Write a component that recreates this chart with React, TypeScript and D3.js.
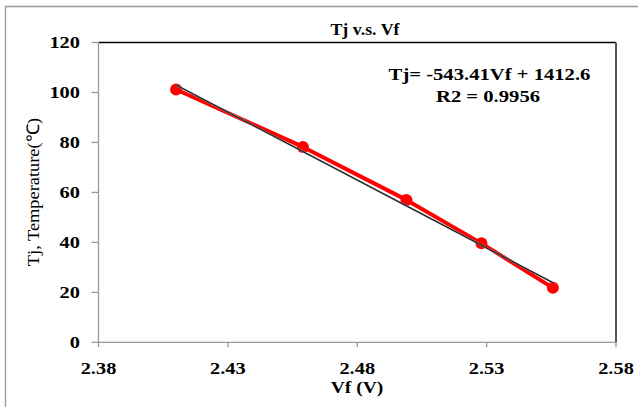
import React from "react";
import * as d3 from "d3";

const vf: number[] = [2.41, 2.459, 2.499, 2.528, 2.5556];
const tj: number[] = [101.2, 78.2, 57.0, 39.6, 21.8];
const xTicks: number[] = [2.38, 2.43, 2.48, 2.53, 2.58];
const yTicks: number[] = [0, 20, 40, 60, 80, 100, 120];
const trendSlope = -543.41;
const trendIntercept = 1412.6;
const r2 = 0.9956;
const title = "Tj v.s. Vf";
const xTitle = "Vf (V)";
const yTitle = "Tj, Temperature(℃)";

const W = 638;
const H = 407;
const FONT = "'Liberation Serif', 'Times New Roman', serif";

function SText(props: {
  x: number; y: number; sx?: number; size: number; bold?: boolean;
  anchor?: string; rotate?: number; children: React.ReactNode; fill?: string;
}) {
  const { x, y, sx = 1, size, bold, anchor = "middle", rotate = 0, children, fill = "#000" } = props;
  return (
    <text
      transform={`translate(${x},${y}) rotate(${rotate}) scale(${sx},1)`}
      fontFamily={FONT}
      fontSize={size}
      fontWeight={bold ? "bold" : "normal"}
      textAnchor={anchor}
      fill={fill}
    >
      {children}
    </text>
  );
}

export default function App() {
  const x = d3.scaleLinear().domain([2.38, 2.58]).range([98.5, 616]);
  const y = d3.scaleLinear().domain([0, 120]).range([342.3, 42.5]);
  const pts = vf.map((v, i) => [v, tj[i]] as [number, number]);
  const line = d3
    .line<[number, number]>()
    .x((d) => x(d[0]))
    .y((d) => y(d[1]));
  const xMin = d3.min(vf)!;
  const xMax = d3.max(vf)!;
  const trend: [number, number][] = [
    [xMin, trendSlope * xMin + trendIntercept],
    [xMax, trendSlope * xMax + trendIntercept],
  ];
  const [x0, x1] = x.range();
  const [y0, y1] = y.range();

  return (
    <svg
      width={W}
      height={H}
      style={{ position: "absolute", left: 0, top: 0, background: "#fff" }}
    >
      <rect x={0} y={0} width={W} height={H} fill="#fff" />
      {/* outer chart border */}
      <line x1={5.5} y1={6} x2={5.5} y2={H} stroke="#999" strokeWidth={1.3} />
      <line x1={5} y1={6.5} x2={W} y2={6.5} stroke="#999" strokeWidth={1.3} />

      {/* plot area border */}
      <line x1={x0} y1={y1} x2={x1} y2={y1} stroke="#000" strokeWidth={1.5} />
      <line x1={x1} y1={y1} x2={x1} y2={y0} stroke="#555" strokeWidth={2} />
      <line x1={x0} y1={y0} x2={x1} y2={y0} stroke="#999" strokeWidth={1.3} />
      <line x1={x0} y1={y0} x2={x0} y2={y1} stroke="#999" strokeWidth={1.3} />

      {/* y ticks */}
      {yTicks.map((t) => (
        <g key={"y" + t}>
          <line x1={x0 - 7} x2={x0} y1={y(t)} y2={y(t)} stroke="#999" strokeWidth={1.3} />
          <SText x={80} y={y(t) + 5.8} sx={1.2} size={17} bold anchor="end">
            {t}
          </SText>
        </g>
      ))}
      {/* x ticks */}
      {xTicks.map((t) => (
        <g key={"x" + t}>
          <line x1={x(t)} x2={x(t)} y1={y0} y2={y0 + 5} stroke="#999" strokeWidth={1.3} />
          <SText x={x(t)} y={373.5} sx={1.2} size={17} bold>
            {t.toFixed(2)}
          </SText>
        </g>
      ))}

      {/* series */}
      <path d={line(pts)!} fill="none" stroke="#ff0000" strokeWidth={4} strokeLinejoin="round" />
      {pts.map((p, i) => (
        <circle key={i} cx={x(p[0])} cy={y(p[1])} r={6} fill="#ff0000" />
      ))}
      {/* trendline */}
      <path d={line(trend)!} fill="none" stroke="#888" strokeWidth={2} />
      <path d={line(trend)!} fill="none" stroke="#000" strokeWidth={0.9} />

      {/* texts */}
      <SText x={365} y={34.5} sx={1.05} size={17} bold>
        {title}
      </SText>
      <SText x={489.5} y={80} sx={1.18} size={17.5} bold>
        {`Tj= ${trendSlope}Vf + ${trendIntercept}`}
      </SText>
      <SText x={488} y={101.7} sx={1.18} size={17.5} bold>
        {`R2 = ${r2}`}
      </SText>
      <SText x={357} y={393} sx={1.15} size={17} bold>
        {xTitle}
      </SText>
      <SText x={39} y={192} sx={1.05} size={17.5} rotate={-90}>
        {yTitle}
      </SText>
    </svg>
  );
}
